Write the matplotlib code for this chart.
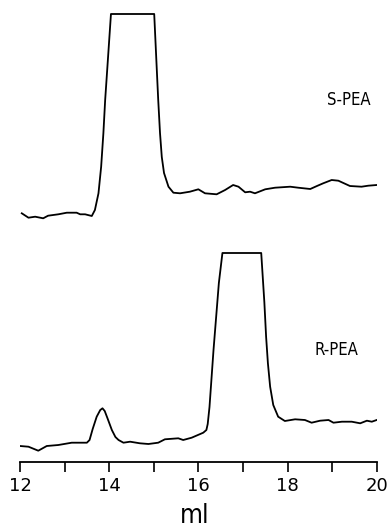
import matplotlib.pyplot as plt

# elution volume (ml) and detector trace height
s_ml = [12.04, 12.19, 12.34, 12.52, 12.63, 12.86, 13.05, 13.27, 13.35, 13.46,
        13.61, 13.68, 13.76, 13.82, 13.87, 13.91, 13.96, 14.04, 15.01, 15.06,
        15.10, 15.14, 15.18, 15.23, 15.33, 15.44, 15.59, 15.81, 16.0, 16.15,
        16.41, 16.60, 16.78, 16.90, 17.05, 17.16, 17.27, 17.50, 17.72, 18.06,
        18.24, 18.51, 18.66, 18.80, 18.99, 19.14, 19.40, 19.66, 19.81, 20.0]
s_sig = [248.7, 244.3, 245.3, 243.7, 246.3, 247.7, 249.3, 249.3, 247.7, 247.7,
         246, 252, 268.7, 295.3, 328.7, 362, 395, 448, 448, 400,
         362, 329, 305, 289, 275.3, 269.3, 268.7, 270.3, 272.7, 268.7,
         267.7, 272, 277, 275.3, 269.7, 270.3, 268.7, 272.7, 274.3, 275.3,
         274.3, 273, 276, 278.7, 282, 281.3, 276, 275.3, 276.3, 277]

r_ml = [12.0, 12.19, 12.41, 12.60, 12.86, 13.16, 13.50, 13.56, 13.63, 13.72,
        13.80, 13.85, 13.90, 13.96, 14.06, 14.14, 14.21, 14.32, 14.47, 14.69,
        14.88, 15.10, 15.25, 15.55, 15.66, 15.85, 16.11, 16.18, 16.21, 16.25,
        16.34, 16.46, 16.54, 17.41, 17.48, 17.52, 17.56, 17.61, 17.68, 17.79,
        17.94, 18.17, 18.39, 18.54, 18.73, 18.92, 19.03, 19.22, 19.44, 19.63,
        19.78, 19.89, 20.0]
r_sig = [16, 15.3, 11.3, 16, 17, 19.3, 19.3, 22, 33, 45.3,
         52, 53.7, 51, 44, 32, 25, 22, 19.3, 20.3, 18.7,
         18, 19.3, 22.7, 23.7, 22, 24.3, 29.3, 32, 38, 55,
         112, 179, 209, 209, 160, 125, 98.7, 75.3, 57, 45.3,
         41, 42.7, 42, 39.3, 41.3, 42, 39.3, 40.3, 40.3, 38.7,
         41.3, 40.3, 42]

ticks = list(range(12, 21))
tick_labels = [str(t) if t % 2 == 0 else '' for t in ticks]

fig = plt.figure(figsize=(3.89, 5.31), dpi=100)
ax = fig.add_axes([20 / 389, 69 / 531, 356.7 / 389, 462 / 531])

ax.plot(s_ml, s_sig, color='black', lw=1.3)
ax.plot(r_ml, r_sig, color='black', lw=1.3)

ax.text(19.37, 362, 'S-PEA', ha='center', va='center', fontsize=12,
        fontstretch='condensed')
ax.text(19.10, 112, 'R-PEA', ha='center', va='center', fontsize=12,
        fontstretch='condensed')

ax.set_xlim(12, 20)
ax.set_ylim(0, 462)
for side in ['top', 'left', 'right']:
    ax.spines[side].set_visible(False)
ax.spines['bottom'].set_linewidth(1.3)
ax.set_yticks([])
ax.set_xticks(ticks)
ax.set_xticklabels(tick_labels, fontsize=13)
ax.tick_params(axis='x', direction='out', length=7.5, width=1.2, pad=3)

fig.text(195 / 389, 1 - 516 / 531, 'ml', ha='center', va='center', fontsize=19,
         fontstretch='condensed')

plt.savefig('out.png', dpi=100)
